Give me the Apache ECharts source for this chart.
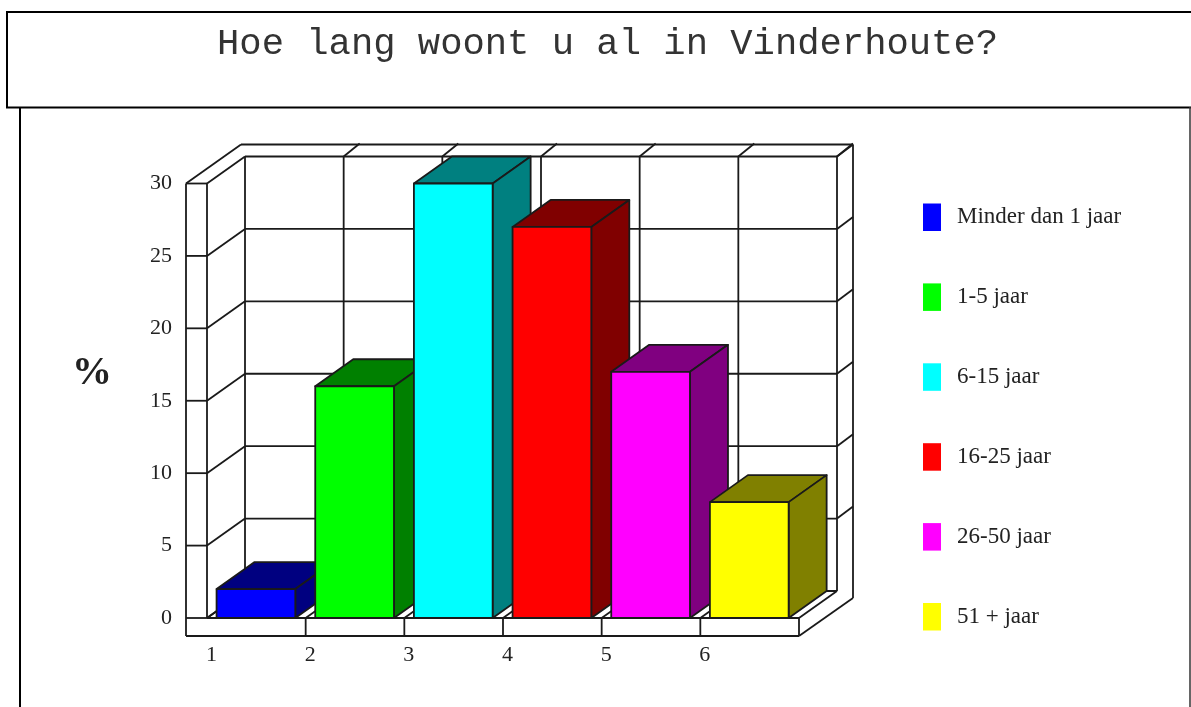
<!DOCTYPE html>
<html>
<head>
<meta charset="utf-8">
<title>Hoe lang woont u al in Vinderhoute?</title>
<script src="https://cdn.jsdelivr.net/npm/echarts@6/dist/echarts.min.js"></script>
<style>
html,body{margin:0;padding:0;background:#fff;overflow:hidden}
#main{width:1191px;height:707px}
</style>
</head>
<body>
<div id="main"></div>
<script>
var titleText = 'Hoe lang woont u al in Vinderhoute?';
var yName = '%';
var categories = ['1', '2', '3', '4', '5', '6'];
var seriesNames = ['Minder dan 1 jaar', '1-5 jaar', '6-15 jaar', '16-25 jaar', '26-50 jaar', '51 + jaar'];
var values = [2, 16, 30, 27, 17, 8];
var frontColors = ['#0000ff', '#00ff00', '#00ffff', '#ff0000', '#ff00ff', '#ffff00'];
var sideColors = ['#000080', '#008000', '#008080', '#800000', '#800080', '#808000'];
var yTicks = [0, 5, 10, 15, 20, 25, 30];

var lineColor = '#1a1a1a';
var lineW = 1.8;
var serif = '"Liberation Serif", serif';

function line(a, b) {
    return {
        type: 'line',
        shape: {x1: a[0], y1: a[1], x2: b[0], y2: b[1]},
        style: {stroke: lineColor, lineWidth: lineW}
    };
}

function shift(p, dx, dy) {
    return [p[0] + dx, p[1] + dy];
}

// walls, floor and the outer box, all hung on the axis scale
function renderFrame(params, api) {
    var kids = [];
    var n = categories.length;
    var top = yTicks[yTicks.length - 1];
    var wall = [38, -27], strip = [-21, 18], outer = [55, -39];

    yTicks.forEach(function (v) {
        var l = api.coord([0, v]), r = api.coord([n, v]);
        var bl = shift(l, wall[0], wall[1]), br = shift(r, wall[0], wall[1]);
        kids.push(line([l[0] + strip[0], l[1]], l));
        kids.push(line(l, bl));
        kids.push(line(bl, br));
        if (v > 0) {
            kids.push(line(br, shift(br, 16, -12)));
        }
    });
    for (var i = 0; i <= n; i++) {
        var f = api.coord([i, 0]), t = api.coord([i, top]);
        var bf = shift(f, wall[0], wall[1]), bt = shift(t, wall[0], wall[1]);
        kids.push(line(f, bf));
        kids.push(line(bf, bt));
        if (i > 0) {
            kids.push(line(bt, shift(bt, 16, -13)));
            kids.push(line(f, [f[0], f[1] + strip[1]]));
        }
    }
    var o0 = api.coord([0, 0]), oN = api.coord([n, 0]), oT = api.coord([0, top]), oTN = api.coord([n, top]);
    var stripTop = [oT[0] + strip[0], oT[1]];
    var stripBot = [o0[0] + strip[0], o0[1] + strip[1]];
    var frontBot = [oN[0], oN[1] + strip[1]];
    var farTop = shift(stripTop, outer[0], outer[1]);
    var farTopR = [oTN[0] + wall[0] + 16, farTop[1]];
    var farBot = shift(frontBot, 54, -38);
    kids.push(line(oT, o0));
    kids.push(line(stripTop, stripBot));
    kids.push(line(stripBot, frontBot));
    kids.push(line(o0, oN));
    kids.push(line(stripTop, farTop));
    kids.push(line(farTop, farTopR));
    kids.push(line(farTopR, farBot));
    kids.push(line(farBot, frontBot));
    return {type: 'group', children: kids};
}

// one fake 3d bar: front, top and side faces
function renderBar(params, api) {
    var i = api.value(0), v = api.value(1);
    var a = api.coord([i + 0.097, v]), b = api.coord([i + 0.895, 0]);
    var dx = 38, dy = -27;
    var c = params.seriesIndex - 1;
    var edge = {stroke: lineColor, lineWidth: lineW, lineJoin: 'round'};
    return {
        type: 'group',
        children: [
            {
                type: 'polygon',
                shape: {points: [[a[0], a[1]], [b[0], a[1]], [b[0] + dx, a[1] + dy], [a[0] + dx, a[1] + dy]]},
                style: Object.assign({fill: sideColors[c]}, edge)
            },
            {
                type: 'polygon',
                shape: {points: [[b[0], a[1]], [b[0], b[1]], [b[0] + dx, b[1] + dy], [b[0] + dx, a[1] + dy]]},
                style: Object.assign({fill: sideColors[c]}, edge)
            },
            {
                type: 'rect',
                shape: {x: a[0], y: a[1], width: b[0] - a[0], height: b[1] - a[1]},
                style: Object.assign({fill: frontColors[c]}, edge)
            }
        ]
    };
}

var series = [{
    type: 'custom',
    name: 'frame',
    silent: true,
    clip: false,
    renderItem: renderFrame,
    data: [[0, 0]],
    z: 1
}];
values.forEach(function (v, i) {
    series.push({
        type: 'custom',
        name: seriesNames[i],
        clip: false,
        renderItem: renderBar,
        itemStyle: {color: frontColors[i]},
        encode: {x: 0, y: 1},
        data: [[i, v]],
        z: 2
    });
});

var myChart = echarts.init(document.getElementById('main'), null, {renderer: 'canvas'});
var option = {
    animation: false,
    backgroundColor: '#fff',
    title: {
        text: titleText,
        left: 217,
        top: 26,
        padding: 0,
        textStyle: {fontFamily: '"Liberation Mono", monospace', fontSize: 37.2, fontWeight: 'normal', color: '#333'}
    },
    graphic: [
        {type: 'polyline', shape: {points: [[1195, 12], [7, 12], [7, 107.5], [1195, 107.5]]}, style: {fill: null, stroke: '#000', lineWidth: 2}},
        {type: 'line', shape: {x1: 20, y1: 107, x2: 20, y2: 710}, style: {stroke: '#000', lineWidth: 2}},
        {type: 'line', shape: {x1: 1190, y1: 107, x2: 1190, y2: 710}, style: {stroke: '#333', lineWidth: 1.5}},
        {
            type: 'text',
            x: 92,
            y: 374,
            style: {text: yName, align: 'center', verticalAlign: 'middle', fontFamily: serif, fontSize: 40, fontWeight: 'bold', fill: '#222'}
        }
    ],
    legend: {
        data: seriesNames,
        orient: 'vertical',
        left: 923,
        top: 203.5,
        padding: 0,
        icon: 'rect',
        itemWidth: 18,
        itemHeight: 27.5,
        itemGap: 52.4,
        selectedMode: false,
        textStyle: {fontFamily: serif, fontSize: 23, color: '#222', padding: [8, 0, 0, 11]}
    },
    grid: {left: 207, top: 183.5, width: 592, height: 434.5},
    xAxis: {
        type: 'value',
        min: 0,
        max: categories.length,
        interval: 1,
        axisLine: {show: false},
        axisTick: {show: false},
        splitLine: {show: false},
        axisLabel: {
            margin: 26,
            padding: [0, 0, 0, 9],
            fontFamily: serif,
            fontSize: 22,
            color: '#222',
            formatter: function (v) { return categories[v] || ''; }
        }
    },
    yAxis: {
        type: 'value',
        min: 0,
        max: 30,
        interval: 5,
        axisLine: {show: false},
        axisTick: {show: false},
        splitLine: {show: false},
        axisLabel: {margin: 35, padding: [6, 0, 0, 0], fontFamily: serif, fontSize: 22, color: '#222'}
    },
    series: series
};
myChart.setOption(option);
</script>
</body>
</html>
